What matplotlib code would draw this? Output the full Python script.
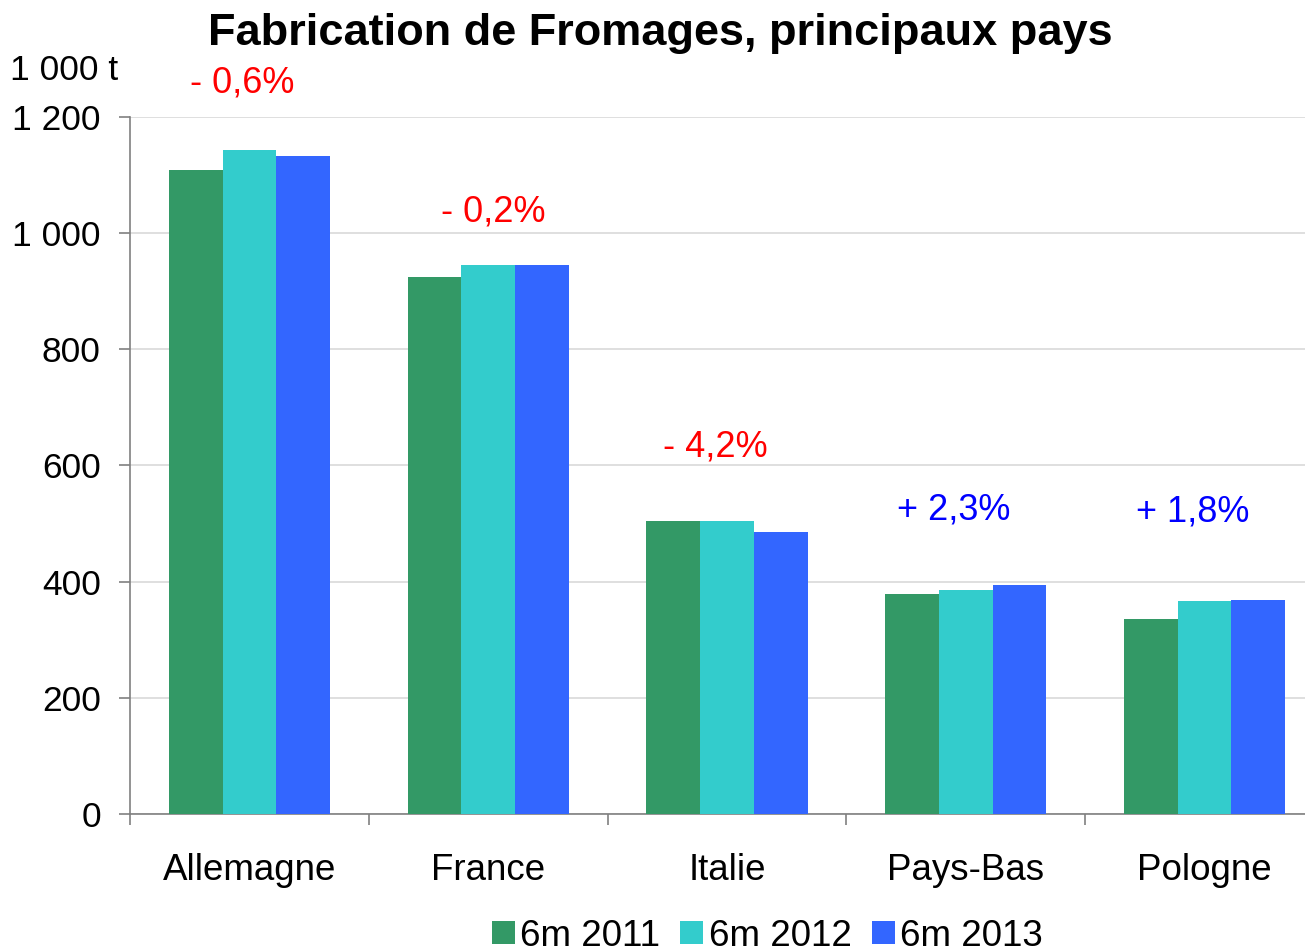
import numpy as np
import matplotlib.pyplot as plt
from matplotlib.ticker import FuncFormatter

plt.rcParams['font.family'] = ['Liberation Sans', 'DejaVu Sans']

pays = ['Allemagne', 'France', 'Italie', 'Pays-Bas', 'Pologne']
series_labels = ['6m 2011', '6m 2012', '6m 2013']
v2011 = [1108, 924, 505, 379, 336]
v2012 = [1143, 945, 505, 385, 366]
v2013 = [1133, 945, 486, 395, 369]
variations = ['- 0,6%', '- 0,2%', '- 4,2%', '+ 2,3%', '+ 1,8%']
var_y = [1258, 1036, 632, 524, 520]
var_dx = [-0.03, 0.02, -0.05, -0.05, -0.05]

colors = ['#339966', '#33CCCC', '#3366FF']

fig = plt.figure(figsize=(13.05, 9.52), dpi=100)
ax = fig.add_axes([130 / 1305, 1 - 814 / 952, 1194 / 1305, (814 - 117) / 952])

x = np.arange(len(pays))
w = 0.225
for i, (vals, lab) in enumerate(zip([v2011, v2012, v2013], series_labels)):
    ax.bar(x + (i - 1) * w, vals, width=w, color=colors[i], label=lab, zorder=3)

ax.set_xlim(-0.5, len(pays) - 0.5)
ax.set_ylim(0, 1200)
ax.set_yticks(range(0, 1201, 200))
ax.yaxis.set_major_formatter(FuncFormatter(lambda v, p: f'{int(v):,}'.replace(',', ' ')))
ax.grid(axis='y', color='#D9D9D9', linewidth=1.2, zorder=0)

ax.set_xticks(x)
ax.set_xticklabels(pays)
ax.set_xticks(np.arange(-0.5, len(pays), 1), minor=True)
ax.tick_params(axis='x', which='major', length=0, labelsize=26.5, pad=28)
ax.tick_params(axis='x', which='minor', length=8, width=1.2, color='#808080', direction='out')
ax.tick_params(axis='y', length=8, width=1.2, color='#808080', labelsize=25.5, pad=13)

for s in ['top', 'right']:
    ax.spines[s].set_visible(False)
for s in ['left', 'bottom']:
    ax.spines[s].set_color('#808080')
    ax.spines[s].set_linewidth(1.2)

for i, (txt, yy) in enumerate(zip(variations, var_y)):
    col = 'red' if txt.startswith('-') else '#0000FF'
    ax.text(i + var_dx[i], yy, txt, color=col, fontsize=26, ha='center', va='center', clip_on=False)

fig.text(0.506, 1 - 33 / 952, 'Fabrication de Fromages, principaux pays', fontsize=32.5,
         fontweight='bold', ha='center', va='center')
fig.text(10 / 1305, 1 - 70 / 952, '1 000 t', fontsize=25.5, ha='left', va='center')

fig.legend(loc='center', bbox_to_anchor=(0.588, 1 - 936 / 952), ncol=3, frameon=False,
           fontsize=26.5, handlelength=0.62, handleheight=0.62, handletextpad=0.15,
           columnspacing=0.55, borderaxespad=0)

fig.savefig('out.png', dpi=100)
